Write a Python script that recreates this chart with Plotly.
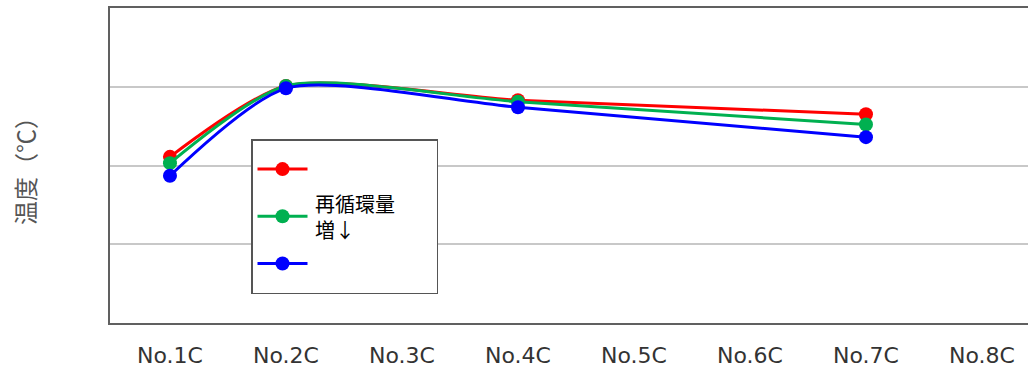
import plotly.graph_objects as go

categories = ["No.1C", "No.2C", "No.3C", "No.4C", "No.5C", "No.6C", "No.7C", "No.8C"]
point_cats = ["No.1C", "No.2C", "No.4C", "No.7C"]
red_vals = [2.11, 3.01, 2.83, 2.65]
green_vals = [2.03, 3.01, 2.81, 2.52]
blue_vals = [1.87, 2.98, 2.74, 2.36]
legend_names = ["\u3000" * 7 + "<br>\u00a0", "<br>", "\u00a0<br>\u00a0"]
green_label = "再循環量<br>増↓"
y_title = "温度（℃）"

colors = ["#ff0000", "#00b050", "#0000ff"]
fig = go.Figure()
for name, vals, c in zip(legend_names, [red_vals, green_vals, blue_vals], colors):
    fig.add_trace(go.Scatter(
        x=point_cats, y=vals, name=name, mode="lines+markers",
        line=dict(color=c, width=3, shape="spline", smoothing=0.7),
        marker=dict(color=c, size=14),
    ))

fig.update_layout(
    width=1028, height=370,
    margin=dict(l=110, r=0, t=8, b=47),
    plot_bgcolor="white", paper_bgcolor="white",
    showlegend=True,
    legend=dict(
        x=(251 - 110) / 918, y=(323 - 139) / 315, xanchor="left", yanchor="top",
        bgcolor="white", bordercolor="#555555", borderwidth=1.5,
        font=dict(family="Noto Sans CJK JP", size=17, color="#000000"),
        itemwidth=50, tracegroupgap=0,
    ),
    xaxis=dict(
        type="category", categoryorder="array", categoryarray=categories,
        range=[-0.517, 7.397], showgrid=False,
        showline=True, linecolor="#606060", linewidth=2, mirror=True,
        ticks="", tickfont=dict(family="DejaVu Sans", size=22, color="#333333"),
        ticklabelstandoff=12,
    ),
    yaxis=dict(
        range=[0, 4], dtick=1, showticklabels=False, ticks="",
        showgrid=True, gridcolor="#c8c8c8", gridwidth=2,
        showline=True, linecolor="#606060", linewidth=2, mirror=False,
        zeroline=False,
    ),
    annotations=[
        dict(
            text=y_title, textangle=-90, xref="paper", yref="paper",
            x=(24 - 110) / 918, y=(323 - 165) / 315, xanchor="center", yanchor="middle",
            showarrow=False, font=dict(family="Noto Sans CJK JP", size=24, color="#555555"),
        ),
        dict(
            text=green_label, xref="paper", yref="paper", align="left",
            x=(313 - 110) / 918, y=(323 - 216.5) / 315, xanchor="left", yanchor="middle",
            showarrow=False, font=dict(family="Noto Sans CJK JP", size=20, color="#000000"),
        ),
    ],
)

fig.write_html("out.html", post_script="document.body.style.margin='0';",
               config={"displayModeBar": False})
